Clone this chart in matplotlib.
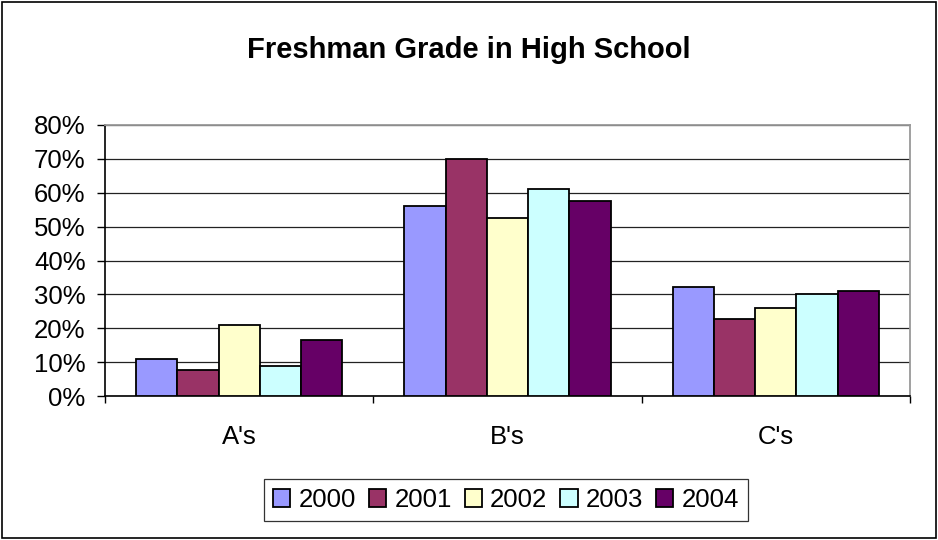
import matplotlib
matplotlib.use("Agg")
import matplotlib.pyplot as plt
import numpy as np
from matplotlib.patches import Rectangle

plt.rcParams['font.family'] = ['Liberation Sans', 'DejaVu Sans']

categories = ["A's", "B's", "C's"]
years = ["2000", "2001", "2002", "2003", "2004"]
v2000 = [11.0, 56.0, 32.2]
v2001 = [7.8, 70.0, 22.7]
v2002 = [21.0, 52.6, 26.1]
v2003 = [8.8, 61.0, 30.0]
v2004 = [16.6, 57.7, 31.0]
series = [v2000, v2001, v2002, v2003, v2004]
colors = ["#9999FF", "#993366", "#FFFFCC", "#CCFFFF", "#660066"]
yticks = [0, 10, 20, 30, 40, 50, 60, 70, 80]
title = "Freshman Grade in High School"

fig = plt.figure(figsize=(9.38, 5.40), dpi=100)
ax = fig.add_axes([105/938, 1-396/540, (910-105)/938, (396-125)/540])

n = len(series)
bw = 1.0 / (n + 1.5)
x = np.arange(len(categories))
for i, (vals, c, yr) in enumerate(zip(series, colors, years)):
    ax.bar(x + (i - (n-1)/2) * bw, vals, width=bw, color=c, edgecolor='black',
           linewidth=1.3, label=yr, zorder=3)

ax.set_xlim(-0.5, len(categories) - 0.5)
ax.set_ylim(0, 80)
ax.set_yticks(yticks)
ax.set_yticklabels([f"{t}%" for t in yticks], fontsize=18.5)
ax.yaxis.grid(True, color='#222222', linewidth=0.9, zorder=0)
ax.tick_params(axis='y', direction='out', length=6, width=1, pad=8)

ax.set_xticks(x)
ax.set_xticklabels(categories, fontsize=18.5)
ax.tick_params(axis='x', which='major', length=0, pad=21)
ax.set_xticks(np.arange(-0.5, len(categories), 1.0), minor=True)
ax.tick_params(axis='x', which='minor', direction='out', length=5, width=1)

for s in ['top', 'right']:
    ax.spines[s].set_color('#999999')
    ax.spines[s].set_linewidth(1.3)
for s in ['left', 'bottom']:
    ax.spines[s].set_color('black')
    ax.spines[s].set_linewidth(1.2)

fig.text(0.5, 1-58.3/540, title, ha='center', va='baseline', fontsize=21, fontweight='bold')

leg = fig.legend(loc='center', bbox_to_anchor=(506/938, 1-500/540), ncol=5, fontsize=18.5,
                 frameon=True, fancybox=False, edgecolor='black', handlelength=0.67,
                 handleheight=0.67, handletextpad=0.33, columnspacing=0.5,
                 borderpad=0.35, borderaxespad=0)
leg.get_frame().set_linewidth(0.9)

fig.patches.append(Rectangle((2/938, 2/540), 934/938, 536/540, transform=fig.transFigure,
                             fill=False, edgecolor='black', linewidth=1.2))

fig.savefig("out.png", dpi=100)
